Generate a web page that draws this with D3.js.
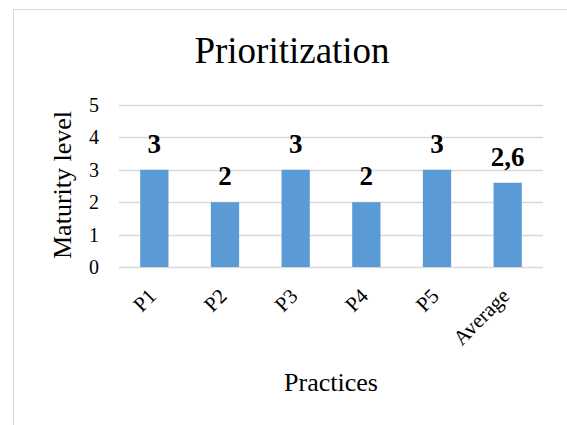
<!DOCTYPE html>
<html><head><meta charset="utf-8">
<script src="https://cdn.jsdelivr.net/npm/d3@7"></script>
<style>body{margin:0;background:#fff}svg{display:block}</style>
</head><body>
<script>
const categories = ["P1","P2","P3","P4","P5","Average"];
const values = [3,2,3,2,3,2.6];
const valueLabels = ["3","2","3","2","3","2,6"];
const yTicks = [0,1,2,3,4,5];
const chartTitle = "Prioritization";
const xTitle = "Practices";
const yTitle = "Maturity level";

(function () {
const W = 567, H = 425;
const font = "'Liberation Serif','Times New Roman',serif";
const svg = d3.select("body").append("svg").attr("width", W).attr("height", H);
svg.append("rect").attr("width", W).attr("height", H).attr("fill", "#fff");
svg.append("rect").attr("x", 13.5).attr("y", 9.5).attr("width", 600).attr("height", 500)
  .attr("fill", "none").attr("stroke", "#d9d9d9").attr("stroke-width", 1);

const pLeft = 119, pRight = 543, pTop = 105, pBottom = 267;
const x = d3.scaleBand().domain(categories).range([pLeft, pRight]).paddingInner(0.6).paddingOuter(0.3);
const y = d3.scaleLinear().domain([0, 5]).range([pBottom, pTop]);

svg.append("g").selectAll("line").data(yTicks).join("line")
  .attr("x1", pLeft).attr("x2", pRight)
  .attr("y1", d => Math.round(y(d)) + 0.5).attr("y2", d => Math.round(y(d)) + 0.5)
  .attr("stroke", "#d9d9d9").attr("stroke-width", 1.5);

const yAxis = d3.axisLeft(y).tickValues(yTicks).tickFormat(d3.format("d")).tickSize(0).tickPadding(0);
const gy = svg.append("g").attr("transform", `translate(${pLeft - 20},0)`).call(yAxis);
gy.select(".domain").remove();
gy.attr("font-family", null).attr("font-size", null);
gy.selectAll("text").style("font-family", font).style("font-size", "20px").attr("fill", "#000");

svg.append("g").selectAll("rect").data(values).join("rect")
  .attr("x", (d, i) => x(categories[i]))
  .attr("width", x.bandwidth())
  .attr("y", d => y(d))
  .attr("height", d => y(0) - y(d))
  .attr("fill", "#5b9bd5");

svg.append("g").selectAll("text").data(values).join("text")
  .attr("x", (d, i) => x(categories[i]) + x.bandwidth() / 2)
  .attr("y", d => y(d) - 17)
  .attr("text-anchor", "middle")
  .style("font-family", font).style("font-size", "27px").style("font-weight", "bold")
  .text((d, i) => valueLabels[i]);

const xAxis = d3.axisBottom(x).tickSize(0).tickPadding(0);
const gx = svg.append("g").attr("transform", `translate(0,${pBottom})`).call(xAxis);
gx.select(".domain").remove();
gx.attr("font-family", null).attr("font-size", null);
gx.selectAll("text")
  .style("font-family", font).style("font-size", "21px").attr("fill", "#000")
  .attr("text-anchor", "end")
  .attr("dy", "0.35em").attr("y", 0)
  .attr("transform", "translate(-2,25) rotate(-45)");

svg.append("text").attr("x", 292).attr("y", 63).attr("text-anchor", "middle")
  .style("font-family", font).style("font-size", "37px").text(chartTitle);
svg.append("text").attr("x", 331).attr("y", 391).attr("text-anchor", "middle")
  .style("font-family", font).style("font-size", "26px").text(xTitle);
svg.append("text").attr("transform", `translate(71,185) rotate(-90)`)
  .attr("text-anchor", "middle")
  .style("font-family", font).style("font-size", "26px").text(yTitle);
})();
</script>
</body></html>
